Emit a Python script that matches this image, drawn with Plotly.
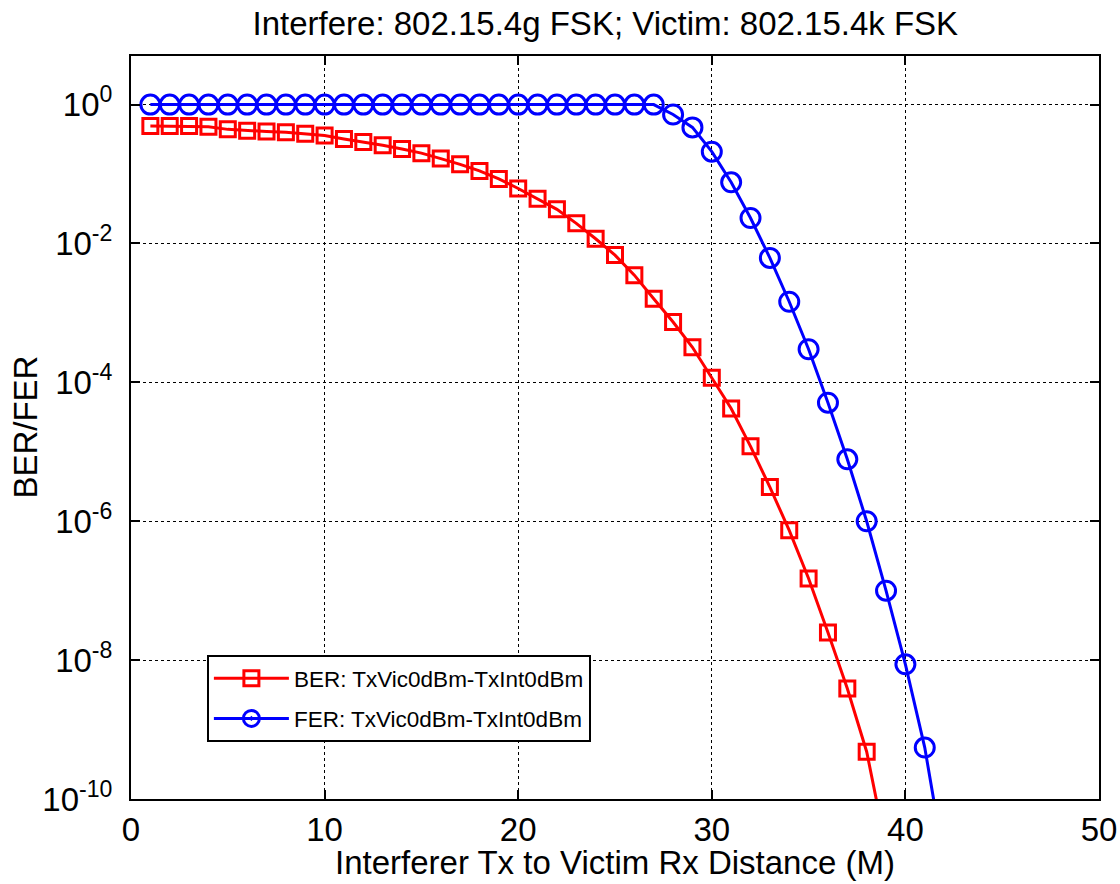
import plotly.graph_objects as go

distance_ber = list(range(1, 40))
ber = [0.49, 0.49, 0.49, 0.48, 0.44, 0.42, 0.41, 0.40, 0.38, 0.36,
       0.32, 0.29, 0.26, 0.23, 0.20, 0.167, 0.138, 0.111, 0.085, 0.062,
       0.044, 0.031, 0.0195, 0.0117, 6.8e-3, 3.5e-3, 1.6e-3, 7.4e-4, 3.2e-4, 1.17e-4,
       4.2e-5, 1.2e-5, 3.1e-6, 7.4e-7, 1.5e-7, 2.5e-8, 3.9e-9, 4.8e-10, 2e-11]

distance_fer = list(range(1, 43))
fer = [1.0] * 27 + [0.72, 0.47, 0.21, 0.076, 0.0233, 6.2e-3, 1.45e-3, 3.0e-4,
                    5.1e-5, 7.8e-6, 1.0e-6, 1.0e-7, 8.7e-9, 5.5e-10, 1.3e-11]

ber_name = "BER: TxVic0dBm-TxInt0dBm"
fer_name = "FER: TxVic0dBm-TxInt0dBm"
title_text = "Interfere: 802.15.4g FSK; Victim: 802.15.4k FSK"
x_title = "Interferer Tx to Victim Rx Distance (M)"
y_title = "BER/FER"

x_ticks = [0, 10, 20, 30, 40, 50]
y_tickvals = [1, 1e-2, 1e-4, 1e-6, 1e-8, 1e-10]
y_ticktext = ["10<sup>0</sup>", "10<sup>-2</sup>", "10<sup>-4</sup>",
              "10<sup>-6</sup>", "10<sup>-8</sup>", "10<sup>-10</sup>"]

FONT = "Liberation Sans, Arial, sans-serif"
FS = 33

fig = go.Figure()
fig.add_trace(go.Scatter(
    x=distance_ber, y=ber, mode="lines+markers", showlegend=False,
    line=dict(color="#ff0000", width=3),
    marker=dict(symbol="square-open", size=15, color="#ff0000",
                line=dict(width=3, color="#ff0000")),
))
fig.add_trace(go.Scatter(
    x=distance_fer, y=fer, mode="lines+markers", showlegend=False,
    line=dict(color="#0000ff", width=3),
    marker=dict(symbol="circle-open", size=19, color="#0000ff",
                line=dict(width=3, color="#0000ff")),
))
# legend entries
fig.add_trace(go.Scatter(
    x=[None], y=[None], mode="lines+markers", name=ber_name, legendgroup="a",
    line=dict(color="#ff0000", width=3),
    marker=dict(symbol="square-open", size=15, color="#ff0000",
                line=dict(width=3, color="#ff0000")),
))
fig.add_trace(go.Scatter(
    x=[None], y=[None], mode="lines+markers", name=fer_name, legendgroup="b",
    line=dict(color="#0000ff", width=3),
    marker=dict(symbol="circle-open-dot", size=19, color="#0000ff",
                line=dict(width=3, color="#0000ff")),
))

axis_common = dict(
    showline=True, linecolor="black", linewidth=2, mirror="ticks",
    ticks="inside", ticklen=9, tickwidth=1.5, tickcolor="black",
    showgrid=True, gridcolor="black", griddash="dot", gridwidth=1,
    zeroline=False,
    tickfont=dict(family=FONT, size=FS, color="black"),
)

fig.update_layout(
    width=1120, height=884,
    margin=dict(l=131, r=21, t=56, b=85, autoexpand=False),
    paper_bgcolor="white", plot_bgcolor="white",
    font=dict(family=FONT, color="black"),
    title=dict(text=title_text, x=0.49, xref="paper", xanchor="center",
               y=1 - 23 / 884, yref="container", yanchor="middle",
               font=dict(family=FONT, size=FS, color="black")),
    xaxis=dict(range=[0, 50], tickvals=x_ticks, automargin=False,
               **axis_common),
    yaxis=dict(type="log", range=[-10, 0.7], tickvals=y_tickvals, ticktext=y_ticktext,
               automargin=False, ticklabelstandoff=10,
               **axis_common),
    legend=dict(x=0.0784, y=0.1938, xanchor="left", yanchor="top",
                bgcolor="white", bordercolor="black", borderwidth=2,
                font=dict(family=FONT, size=22.5, color="black"),
                itemwidth=75, tracegroupgap=8),
    annotations=[
        dict(text=x_title, xref="paper", yref="paper", x=0.5, y=-0.0848,
             xanchor="center", yanchor="middle", showarrow=False,
             font=dict(family=FONT, size=FS, color="black")),
        dict(text=y_title, xref="paper", yref="paper", x=-0.1094, y=0.5,
             xanchor="center", yanchor="middle", textangle=-90, showarrow=False,
             font=dict(family=FONT, size=FS, color="black")),
    ],
)

fig.write_html(
    "out.html",
    config={"displayModeBar": False},
    post_script="document.body.style.margin='0';document.body.style.padding='0';"
                "document.body.style.overflow='hidden';",
)
